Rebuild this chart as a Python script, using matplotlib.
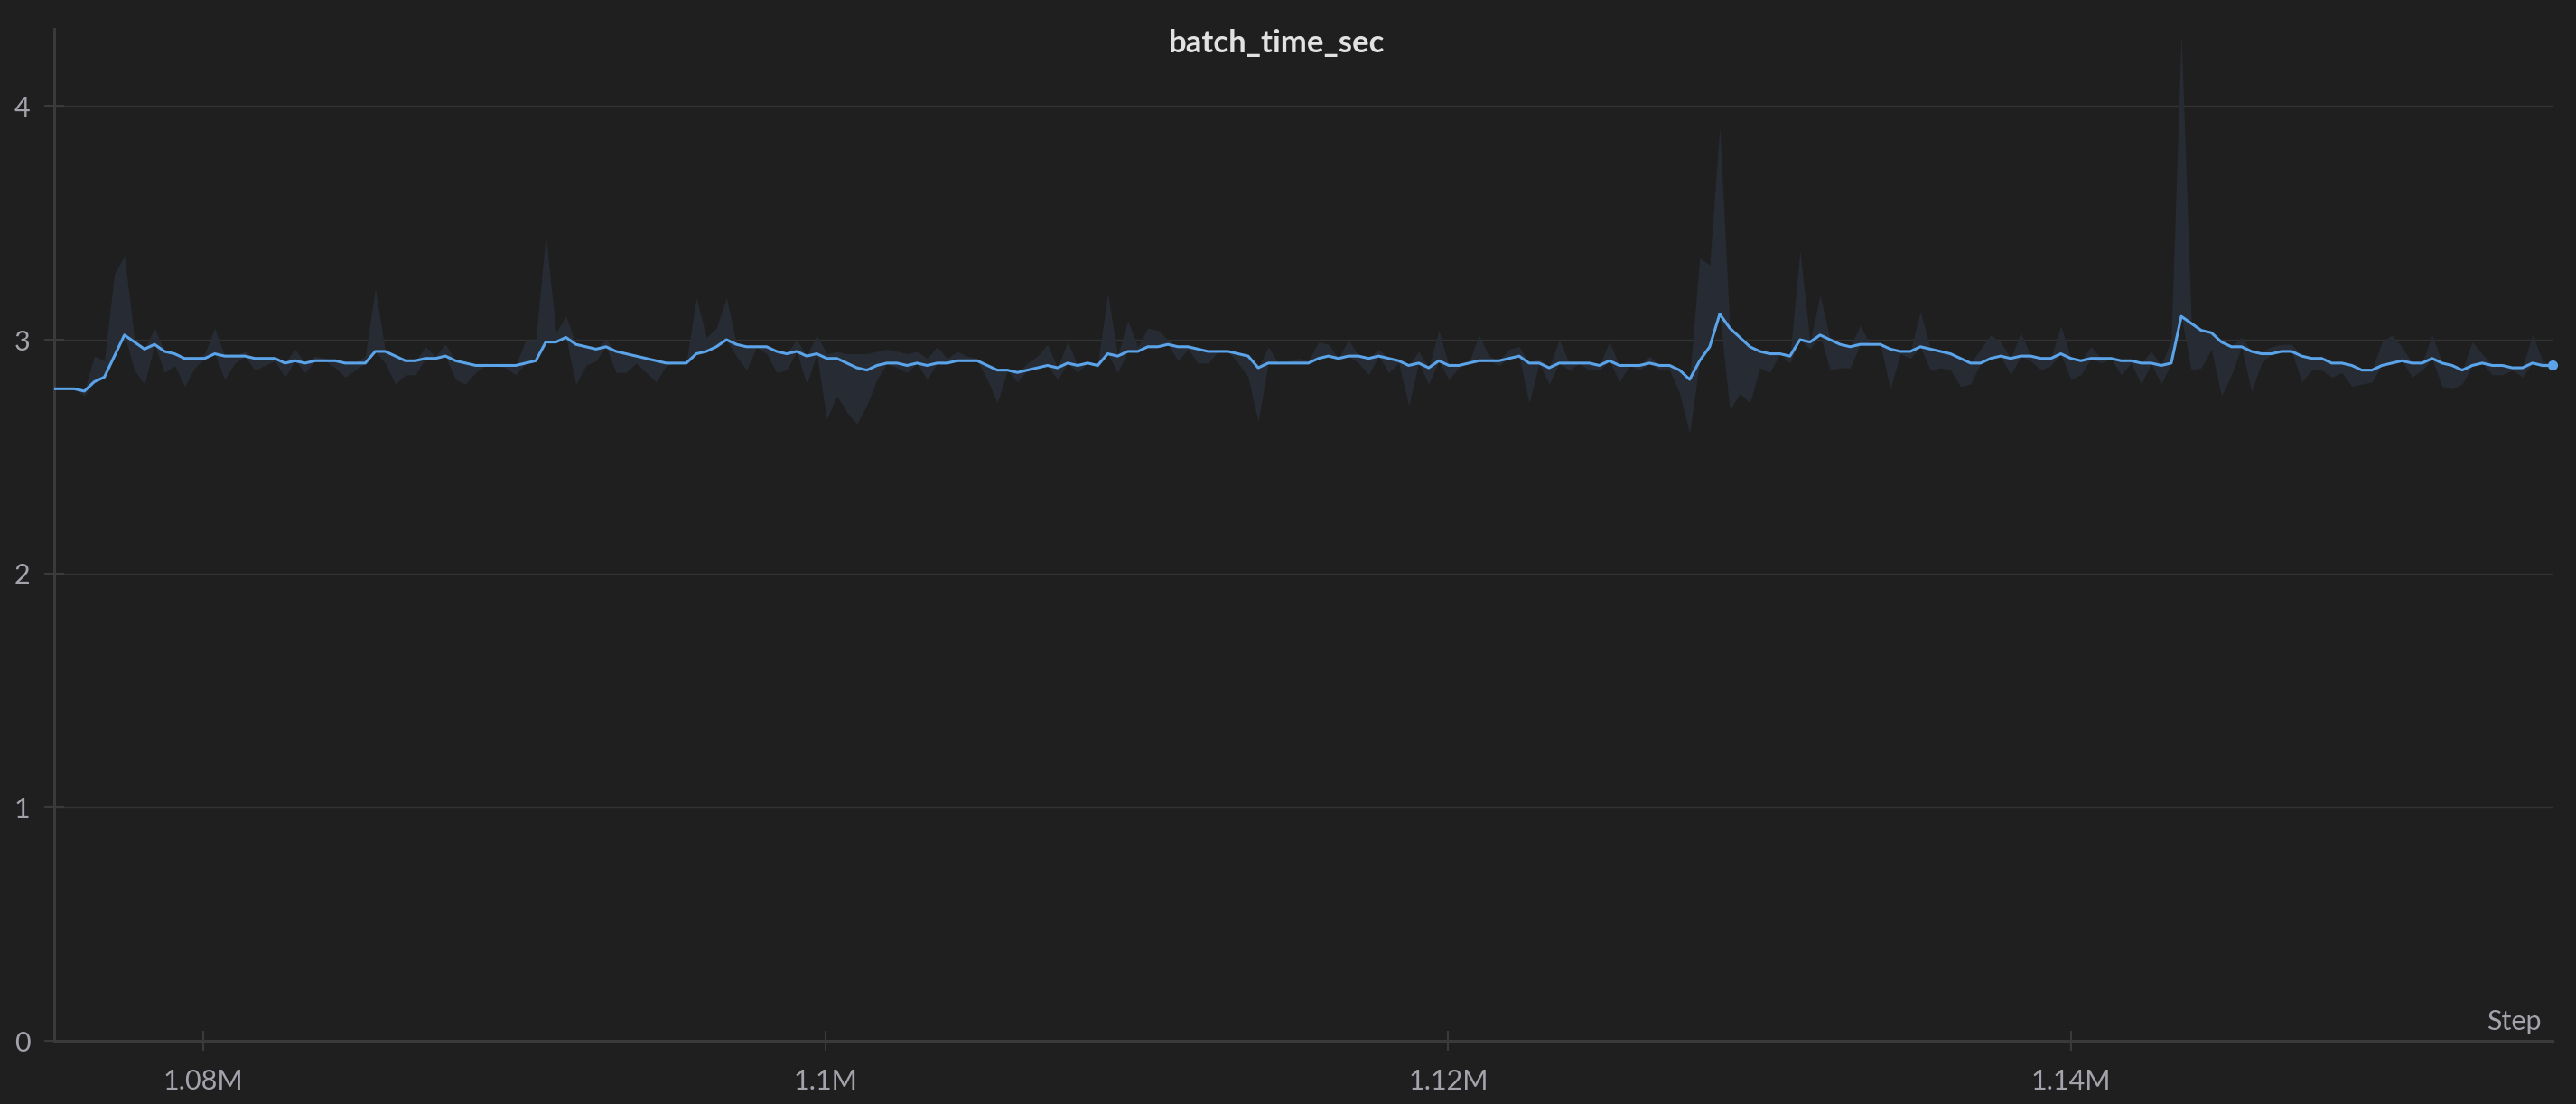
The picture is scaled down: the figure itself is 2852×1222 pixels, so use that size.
import numpy as np
import matplotlib
matplotlib.use("Agg")
import matplotlib.pyplot as plt
from matplotlib.ticker import FixedLocator, FuncFormatter

# logged steps: evenly sampled every ~322 steps
step_first = 1075204
step_every = 322.4

# smoothed batch time (sec)
smooth = [
    2.79, 2.79, 2.79, 2.78, 2.82, 2.84, 2.93, 3.02, 2.99, 2.96,
    2.98, 2.95, 2.94, 2.92, 2.92, 2.92, 2.94, 2.93, 2.93, 2.93,
    2.92, 2.92, 2.92, 2.90, 2.91, 2.90, 2.91, 2.91, 2.91, 2.90,
    2.90, 2.90, 2.95, 2.95, 2.93, 2.91, 2.91, 2.92, 2.92, 2.93,
    2.91, 2.90, 2.89, 2.89, 2.89, 2.89, 2.89, 2.90, 2.91, 2.99,
    2.99, 3.01, 2.98, 2.97, 2.96, 2.97, 2.95, 2.94, 2.93, 2.92,
    2.91, 2.90, 2.90, 2.90, 2.94, 2.95, 2.97, 3.00, 2.98, 2.97,
    2.97, 2.97, 2.95, 2.94, 2.95, 2.93, 2.94, 2.92, 2.92, 2.90,
    2.88, 2.87, 2.89, 2.90, 2.90, 2.89, 2.90, 2.89, 2.90, 2.90,
    2.91, 2.91, 2.91, 2.89, 2.87, 2.87, 2.86, 2.87, 2.88, 2.89,
    2.88, 2.90, 2.89, 2.90, 2.89, 2.94, 2.93, 2.95, 2.95, 2.97,
    2.97, 2.98, 2.97, 2.97, 2.96, 2.95, 2.95, 2.95, 2.94, 2.93,
    2.88, 2.90, 2.90, 2.90, 2.90, 2.90, 2.92, 2.93, 2.92, 2.93,
    2.93, 2.92, 2.93, 2.92, 2.91, 2.89, 2.90, 2.88, 2.91, 2.89,
    2.89, 2.90, 2.91, 2.91, 2.91, 2.92, 2.93, 2.90, 2.90, 2.88,
    2.90, 2.90, 2.90, 2.90, 2.89, 2.91, 2.89, 2.89, 2.89, 2.90,
    2.89, 2.89, 2.87, 2.83, 2.91, 2.97, 3.11, 3.05, 3.01, 2.97,
    2.95, 2.94, 2.94, 2.93, 3.00, 2.99, 3.02, 3.00, 2.98, 2.97,
    2.98, 2.98, 2.98, 2.96, 2.95, 2.95, 2.97, 2.96, 2.95, 2.94,
    2.92, 2.90, 2.90, 2.92, 2.93, 2.92, 2.93, 2.93, 2.92, 2.92,
    2.94, 2.92, 2.91, 2.92, 2.92, 2.92, 2.91, 2.91, 2.90, 2.90,
    2.89, 2.90, 3.10, 3.07, 3.04, 3.03, 2.99, 2.97, 2.97, 2.95,
    2.94, 2.94, 2.95, 2.95, 2.93, 2.92, 2.92, 2.90, 2.90, 2.89,
    2.87, 2.87, 2.89, 2.90, 2.91, 2.90, 2.90, 2.92, 2.90, 2.89,
    2.87, 2.89, 2.90, 2.89, 2.89, 2.88, 2.88, 2.90, 2.89, 2.89,
]

# max of raw values per bucket
band_hi = [
    2.79, 2.79, 2.79, 2.78, 2.93, 2.91, 3.28, 3.36, 3.00, 2.96,
    3.05, 2.95, 2.94, 2.92, 2.92, 2.94, 3.05, 2.93, 2.93, 2.95,
    2.92, 2.92, 2.92, 2.90, 2.96, 2.90, 2.93, 2.92, 2.91, 2.90,
    2.90, 2.93, 3.22, 2.95, 2.93, 2.91, 2.91, 2.97, 2.93, 2.98,
    2.91, 2.90, 2.89, 2.90, 2.89, 2.89, 2.89, 3.00, 3.00, 3.45,
    3.03, 3.10, 2.98, 2.97, 2.96, 3.00, 2.95, 2.94, 2.93, 2.92,
    2.91, 2.90, 2.90, 2.90, 3.18, 3.01, 3.05, 3.18, 2.98, 2.97,
    2.97, 2.97, 2.95, 2.94, 3.00, 2.93, 3.02, 2.94, 2.95, 2.94,
    2.94, 2.94, 2.95, 2.96, 2.95, 2.94, 2.95, 2.92, 2.97, 2.92,
    2.95, 2.93, 2.92, 2.89, 2.87, 2.87, 2.86, 2.90, 2.93, 2.98,
    2.88, 2.99, 2.89, 2.91, 2.89, 3.20, 2.93, 3.08, 2.97, 3.05,
    3.04, 3.00, 2.97, 2.97, 2.96, 2.95, 2.96, 2.95, 2.94, 2.93,
    2.88, 2.97, 2.90, 2.91, 2.92, 2.91, 2.99, 2.98, 2.92, 3.00,
    2.93, 2.92, 2.96, 2.92, 2.91, 2.89, 2.95, 2.88, 3.04, 2.89,
    2.89, 2.90, 3.02, 2.93, 2.91, 2.96, 2.97, 2.90, 2.92, 2.88,
    3.00, 2.90, 2.90, 2.90, 2.89, 2.99, 2.89, 2.89, 2.89, 2.93,
    2.89, 2.89, 2.87, 2.83, 3.35, 3.32, 3.91, 3.05, 3.01, 2.97,
    2.95, 2.94, 2.94, 2.93, 3.38, 2.99, 3.19, 3.00, 2.98, 2.97,
    3.06, 2.98, 2.98, 2.96, 2.95, 2.95, 3.12, 2.96, 2.95, 2.94,
    2.92, 2.90, 2.96, 3.02, 2.99, 2.92, 3.03, 2.93, 2.92, 2.92,
    3.06, 2.92, 2.91, 2.97, 2.92, 2.92, 2.91, 2.91, 2.90, 2.95,
    2.89, 3.00, 4.31, 3.07, 3.04, 3.03, 2.99, 2.97, 3.01, 2.95,
    2.95, 2.97, 2.98, 2.98, 2.93, 2.92, 2.92, 2.90, 2.90, 2.89,
    2.87, 2.87, 2.99, 3.02, 2.97, 2.90, 2.90, 3.02, 2.90, 2.89,
    2.87, 2.99, 2.94, 2.89, 2.89, 2.88, 2.88, 3.02, 2.91, 2.89,
]

# min of raw values per bucket
band_lo = [
    2.79, 2.79, 2.79, 2.76, 2.82, 2.84, 2.93, 3.02, 2.87, 2.81,
    2.98, 2.86, 2.89, 2.80, 2.88, 2.92, 2.94, 2.83, 2.90, 2.93,
    2.87, 2.89, 2.91, 2.84, 2.91, 2.86, 2.91, 2.91, 2.88, 2.84,
    2.87, 2.90, 2.95, 2.90, 2.81, 2.85, 2.85, 2.92, 2.92, 2.93,
    2.83, 2.81, 2.86, 2.89, 2.89, 2.88, 2.85, 2.90, 2.91, 2.99,
    2.99, 3.01, 2.81, 2.89, 2.91, 2.97, 2.86, 2.86, 2.90, 2.86,
    2.82, 2.89, 2.90, 2.90, 2.94, 2.95, 2.97, 3.00, 2.93, 2.87,
    2.97, 2.94, 2.86, 2.87, 2.95, 2.81, 2.94, 2.66, 2.76, 2.69,
    2.64, 2.72, 2.83, 2.90, 2.88, 2.86, 2.90, 2.83, 2.90, 2.90,
    2.91, 2.91, 2.91, 2.83, 2.73, 2.87, 2.82, 2.87, 2.88, 2.89,
    2.83, 2.90, 2.86, 2.90, 2.88, 2.94, 2.86, 2.95, 2.95, 2.97,
    2.97, 2.98, 2.91, 2.96, 2.90, 2.90, 2.95, 2.95, 2.90, 2.84,
    2.65, 2.90, 2.90, 2.90, 2.90, 2.90, 2.92, 2.93, 2.91, 2.93,
    2.90, 2.85, 2.93, 2.86, 2.90, 2.72, 2.90, 2.81, 2.91, 2.83,
    2.88, 2.90, 2.91, 2.91, 2.89, 2.92, 2.93, 2.73, 2.90, 2.81,
    2.90, 2.87, 2.90, 2.87, 2.87, 2.91, 2.82, 2.89, 2.87, 2.90,
    2.87, 2.87, 2.77, 2.60, 2.91, 2.97, 3.11, 2.70, 2.77, 2.73,
    2.88, 2.86, 2.94, 2.90, 3.00, 2.96, 3.02, 2.87, 2.88, 2.88,
    2.98, 2.98, 2.98, 2.79, 2.94, 2.92, 2.97, 2.87, 2.88, 2.87,
    2.80, 2.81, 2.90, 2.92, 2.93, 2.85, 2.93, 2.91, 2.87, 2.89,
    2.94, 2.83, 2.85, 2.92, 2.90, 2.92, 2.85, 2.90, 2.81, 2.90,
    2.81, 2.90, 3.10, 2.87, 2.88, 2.96, 2.76, 2.85, 2.97, 2.78,
    2.90, 2.94, 2.95, 2.95, 2.82, 2.87, 2.87, 2.84, 2.86, 2.80,
    2.81, 2.82, 2.89, 2.90, 2.91, 2.84, 2.87, 2.92, 2.80, 2.79,
    2.81, 2.89, 2.90, 2.85, 2.85, 2.87, 2.84, 2.90, 2.88, 2.88,
]

x_ticks = [1080000, 1100000, 1120000, 1140000]
y_ticks = [0, 1, 2, 3, 4]

steps = step_first + step_every * np.arange(len(smooth))

bg = "#1f1f1f"
tick_col = "#a3a3ab"
axis_col = "#3a3a3a"
line_col = "#5ba4ea"
band_col = "#272c34"

plt.rcParams["font.family"] = ["Lato", "DejaVu Sans"]

fig = plt.figure(figsize=(28.52, 12.22), dpi=100, facecolor=bg)
ax = fig.add_axes([60 / 2852, 1 - 1152 / 1222, 2766 / 2852, 1120 / 1222])
ax.set_facecolor(bg)

ax.fill_between(steps, band_lo, band_hi, color=band_col, linewidth=0, zorder=2)
ax.plot(steps, smooth, color=line_col, linewidth=2.2, zorder=3, solid_joinstyle="round")
ax.plot(steps[-1:], smooth[-1:], "o", color=line_col, markersize=7, zorder=4, clip_on=False)

ax.set_xlim(steps[0], steps[-1])
ax.set_ylim(0, 4.33)

ax.xaxis.set_major_locator(FixedLocator(x_ticks))
ax.xaxis.set_major_formatter(FuncFormatter(lambda v, p: f"{v / 1e6:g}M"))
ax.yaxis.set_major_locator(FixedLocator(y_ticks))

for sp in ["top", "right"]:
    ax.spines[sp].set_visible(False)
for sp in ["left", "bottom"]:
    ax.spines[sp].set_color(axis_col)
    ax.spines[sp].set_linewidth(2.2)

ax.grid(axis="y", color="#333333", linewidth=1.0, zorder=1)
ax.set_axisbelow(True)
ax.tick_params(axis="both", direction="inout", length=16, width=1.5, color=axis_col,
               labelcolor=tick_col, labelsize=22)
ax.tick_params(axis="x", pad=14)
ax.tick_params(axis="y", pad=11)

ax.text(0.9955, 0.006, "Step", transform=ax.transAxes, ha="right", va="bottom",
        fontsize=22, color=tick_col)

fig.text(1414 / 2852, 1 - 48 / 1222, "batch_time_sec", ha="center", va="center",
         fontsize=25, fontweight="bold", color="#e2e2e2")

fig.savefig("out.png", dpi=100, facecolor=bg)
